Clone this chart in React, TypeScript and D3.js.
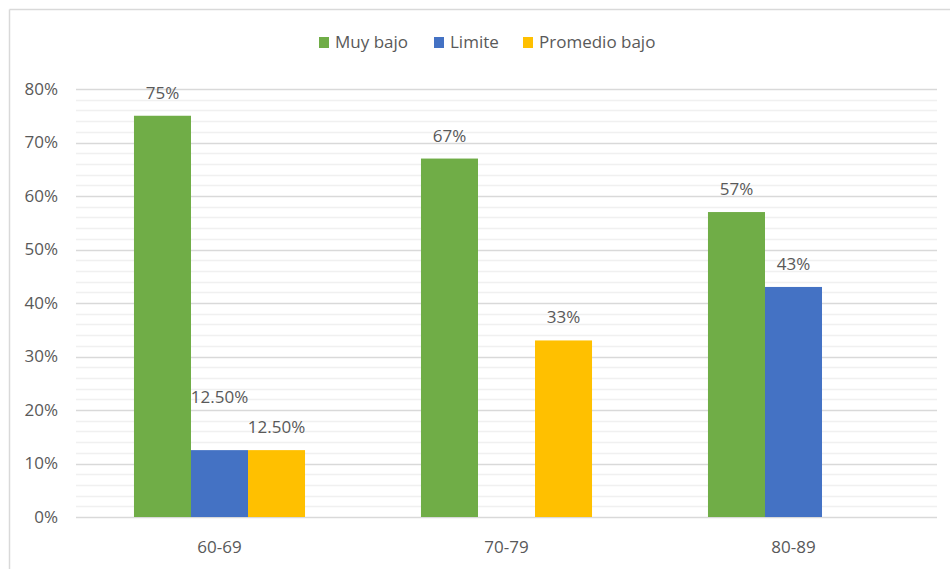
import * as d3 from 'd3';

const categories = ['60-69', '70-79', '80-89'];
const seriesNames = ['Muy bajo', 'Limite', 'Promedio bajo'];
const muyBajo = [75, 67, 57];
const limite = [12.5, null, 43];
const promedioBajo = [12.5, 33, null];
const valueLabels = [
  ['75%', '67%', '57%'],
  ['12.50%', '', '43%'],
  ['12.50%', '33%', ''],
];
const yTicks = [0, 10, 20, 30, 40, 50, 60, 70, 80];

const COLORS = ['#70ad47', '#4472c4', '#ffc000'];
const FONT = '"Open Sans", "Liberation Sans", sans-serif';
const TEXT = '#595959';

const W = 950;
const H = 569;
const margin = { top: 89, right: 13, bottom: 52, left: 76 };

export default function App() {
  const series = [muyBajo, limite, promedioBajo];
  const innerW = W - margin.left - margin.right;
  const innerH = H - margin.top - margin.bottom;

  const x0 = d3.scaleBand<string>().domain(categories).range([0, innerW]).paddingInner(0.404).paddingOuter(0.202);
  const x1 = d3.scaleBand<number>().domain([0, 1, 2]).range([0, x0.bandwidth()]);
  const y = d3.scaleLinear().domain([0, 80]).range([innerH, 0]);
  const minor = d3.range(0, 81, 2).filter((v) => v % 10 !== 0);

  const legendX = [319, 434, 523];

  return (
    <svg width={W} height={H} style={{ position: 'absolute', left: 0, top: 0, background: '#fff' }} fontFamily={FONT}>
      <rect x={0} y={0} width={W} height={H} fill="#fff" />
      <line x1={9.5} x2={W} y1={9.5} y2={9.5} stroke="#d9d9d9" strokeWidth={1.5} />
      <line x1={9.5} x2={9.5} y1={9.5} y2={H} stroke="#d9d9d9" strokeWidth={1.5} />

      {seriesNames.map((name, i) => (
        <g key={name} transform={`translate(${legendX[i]},37)`}>
          <rect width={10} height={11} fill={COLORS[i]} />
          <text x={16} y={11} fontSize={17} fill={TEXT}>{name}</text>
        </g>
      ))}

      <g transform={`translate(${margin.left},${margin.top})`}>
        {minor.map((v) => (
          <line key={'m' + v} x1={0} x2={innerW} y1={Math.round(y(v)) + 0.5} y2={Math.round(y(v)) + 0.5} stroke="#f0f0f0" strokeWidth={1.5} />
        ))}
        {yTicks.map((v) => (
          <g key={v}>
            <line x1={0} x2={innerW} y1={Math.round(y(v)) + 0.5} y2={Math.round(y(v)) + 0.5} stroke="#d9d9d9" strokeWidth={1.5} />
            <text x={-18} y={y(v)} dy="0.35em" textAnchor="end" fontSize={17} fill={TEXT}>{v}%</text>
          </g>
        ))}

        {categories.map((c, ci) => (
          <g key={c} transform={`translate(${x0(c)},0)`}>
            {series.map((s, si) => {
              const v = s[ci];
              if (v == null) return null;
              const bx = x1(si) ?? 0;
              // Excel nudged the overlapping middle label up
              const lift = ci === 0 && si === 1 ? 30 : 0;
              return (
                <g key={si}>
                  <rect x={bx} y={y(v)} width={x1.bandwidth()} height={innerH - y(v)} fill={COLORS[si]} />
                  <text x={bx + x1.bandwidth() / 2} y={y(v) - 17 - lift} textAnchor="middle" fontSize={17} fill={TEXT}>
                    {valueLabels[si][ci]}
                  </text>
                </g>
              );
            })}
            <text x={x0.bandwidth() / 2} y={innerH + 36} textAnchor="middle" fontSize={17} fill={TEXT}>{c}</text>
          </g>
        ))}
      </g>
    </svg>
  );
}
